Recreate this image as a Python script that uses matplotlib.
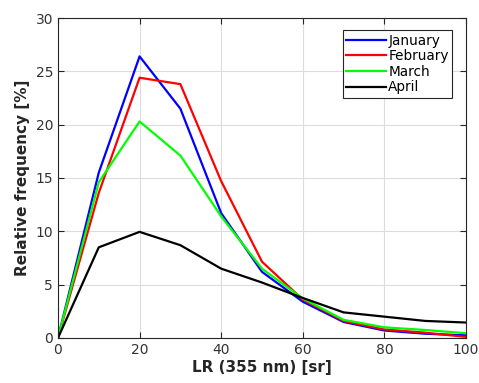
import numpy as np
import matplotlib
matplotlib.use("Agg")
from matplotlib import pyplot as plt

lr = [0, 10, 20, 30, 40, 50, 60, 70, 80, 90, 100]
january = [0, 15.5, 26.4, 21.5, 11.7, 6.2, 3.4, 1.5, 0.7, 0.4, 0.25]
february = [0, 13.6, 24.4, 23.8, 14.7, 7.15, 3.6, 1.6, 0.8, 0.5, 0.1]
march = [0, 14.6, 20.3, 17.1, 11.4, 6.5, 3.7, 1.7, 1.0, 0.75, 0.45]
april = [0, 8.5, 9.95, 8.7, 6.5, 5.2, 3.75, 2.4, 2.0, 1.6, 1.45]

plt.rcParams['font.family'] = 'DejaVu Sans'

fig = plt.figure(figsize=(4.79, 3.83), dpi=100)
ax = fig.add_axes([0.121, 0.1175, 0.852, 0.8355])

ax.plot(lr, january, color='#0000ff', lw=1.6, label='January')
ax.plot(lr, february, color='#ff0000', lw=1.6, label='February')
ax.plot(lr, march, color='#00ff00', lw=1.6, label='March')
ax.plot(lr, april, color='#000000', lw=1.6, label='April')

ax.set_xlim(0, 100)
ax.set_ylim(0, 30)
ax.set_xticks(np.arange(0, 101, 20))
ax.set_yticks(np.arange(0, 31, 5))
ax.grid(True, color='#dcdcdc', lw=0.8)
ax.set_axisbelow(True)
ax.tick_params(direction='in', labelsize=10, colors='#262626', labelcolor='#333333',
               length=4, top=True, right=True)
for s in ax.spines.values():
    s.set_color('#262626')
    s.set_linewidth(0.8)

ax.set_xlabel('LR (355 nm) [sr]', fontsize=11, fontweight='bold', color='#262626', labelpad=2)
ax.set_ylabel('Relative frequency [%]', fontsize=11, fontweight='bold', color='#262626', labelpad=4)

leg = ax.legend(loc='upper right', bbox_to_anchor=(0.966, 0.962), fontsize=9.8,
                fancybox=False, framealpha=1, edgecolor='#262626',
                handlelength=2.9, handletextpad=0.2, borderpad=0.25, labelspacing=0.12,
                borderaxespad=0)
leg.get_frame().set_linewidth(0.8)

fig.savefig('out.png', dpi=100)
